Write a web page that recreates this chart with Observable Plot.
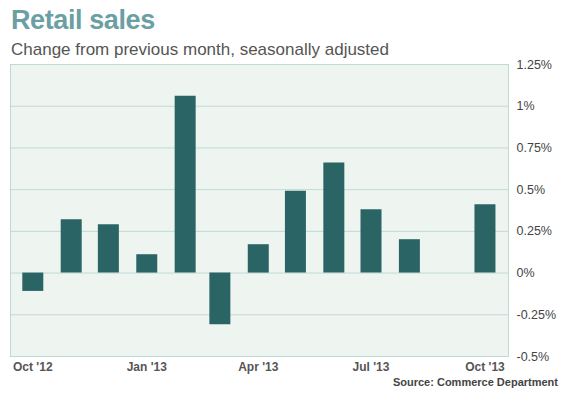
<!DOCTYPE html>
<html>
<head>
<meta charset="utf-8">
<script src="https://cdn.jsdelivr.net/npm/d3@7"></script>
<script src="https://cdn.jsdelivr.net/npm/@observablehq/plot@0.6"></script>
<style>
  html, body { margin: 0; padding: 0; background: #fff; }
  body { width: 569px; height: 398px; position: relative; overflow: hidden; font-family: "Liberation Sans", Arial, Helvetica, sans-serif; }
  #title { position: absolute; left: 11px; top: 6.5px; font-size: 27px; line-height: 27px; font-weight: bold; color: #6b9fa3; letter-spacing: -0.4px; white-space: nowrap; }
  #subtitle { position: absolute; left: 11px; top: 40.5px; font-size: 17px; line-height: 17px; color: #555; white-space: nowrap; }
  #chart { position: absolute; left: 0; top: 52px; }
  #source { position: absolute; right: 11px; top: 377px; font-size: 11px; line-height: 11px; font-weight: bold; color: #444; white-space: nowrap; }
</style>
</head>
<body>
<div id="title">Retail sales</div>
<div id="subtitle">Change from previous month, seasonally adjusted</div>
<div id="chart"></div>
<div id="source">Source: Commerce Department</div>
<script>
// Data
const months = ["2012-10-01","2012-11-01","2012-12-01","2013-01-01","2013-02-01","2013-03-01",
                "2013-04-01","2013-05-01","2013-06-01","2013-07-01","2013-08-01","2013-10-01"];
const changes = [-0.11, 0.32, 0.29, 0.11, 1.06, -0.31, 0.17, 0.49, 0.66, 0.38, 0.20, 0.41];
const yTicks = [-0.5, -0.25, 0, 0.25, 0.5, 0.75, 1, 1.25];
const xTickDates = ["2012-10-01","2013-01-01","2013-04-01","2013-07-01","2013-10-01"];
const xTickLabels = ["Oct '12","Jan '13","Apr '13","Jul '13","Oct '13"];

const data = months.map((m, i) => ({date: new Date(m + "T00:00:00Z"), value: changes[i]}));
const xTicks = xTickDates.map(d => new Date(d + "T00:00:00Z"));
const labelOf = new Map(xTicks.map((d, i) => [+d, xTickLabels[i]]));

const chart = Plot.plot({
  width: 569,
  height: 326,
  marginTop: 12,
  marginBottom: 22,
  marginLeft: 10,
  marginRight: 61,
  style: {fontFamily: '"Liberation Sans", Arial, Helvetica, sans-serif', background: "transparent"},
  x: {type: "utc", domain: [new Date("2012-09-13T00:00:00Z"), new Date("2013-10-20T00:00:00Z")]},
  y: {domain: [-0.5, 1.25]},
  marks: [
    Plot.frame({fill: "#eef5f1", stroke: "none"}),
    Plot.gridY(yTicks, {stroke: "#bfd9d6", strokeOpacity: 1, strokeWidth: 1}),
    Plot.frame({stroke: "#bfd9d6", strokeWidth: 1}),
    Plot.ruleX(data, {x: "date", y1: 0, y2: "value", stroke: "#2a6465", strokeWidth: 21}),
    Plot.axisY(yTicks, {anchor: "right", tickSize: 0, tickPadding: 8, tickFormat: d => `${d}%`,
      fill: "#444", fontSize: 12.5, label: null}),
    Plot.axisX(xTicks, {anchor: "bottom", tickSize: 0, tickPadding: 6, tickFormat: d => labelOf.get(+d),
      fill: "#555", fontSize: 12, fontWeight: "bold", label: null})
  ]
});
document.getElementById("chart").appendChild(chart);
</script>
</body>
</html>
